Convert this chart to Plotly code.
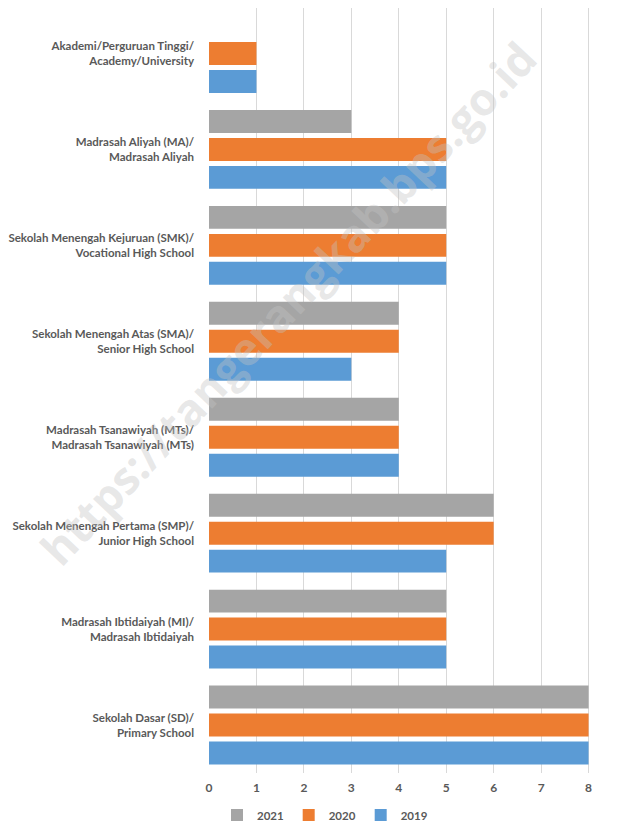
import plotly.graph_objects as go

categories = [
    "Sekolah Dasar (SD)/<br>Primary School",
    "Madrasah Ibtidaiyah (MI)/<br>Madrasah Ibtidaiyah",
    "Sekolah Menengah Pertama (SMP)/<br>Junior High School",
    "Madrasah Tsanawiyah (MTs)/<br>Madrasah Tsanawiyah (MTs)",
    "Sekolah Menengah Atas (SMA)/<br>Senior High School",
    "Sekolah Menengah Kejuruan (SMK)/<br>Vocational High School",
    "Madrasah Aliyah (MA)/<br>Madrasah Aliyah",
    "Akademi/Perguruan Tinggi/<br>Academy/University",
]
v2019 = [8, 5, 5, 4, 3, 5, 5, 1]
v2020 = [8, 5, 6, 4, 4, 5, 5, 1]
v2021 = [8, 5, 6, 4, 4, 5, 3, None]
x_ticks = [0, 1, 2, 3, 4, 5, 6, 7, 8, 9]

fig = go.Figure()
for name, vals, col in [("2019", v2019, "#5B9BD5"),
                        ("2020", v2020, "#ED7D31"),
                        ("2021", v2021, "#A5A5A5")]:
    fig.add_trace(go.Bar(y=categories, x=vals, name=name, orientation="h",
                         marker=dict(color=col, line=dict(width=0))))

fig.add_annotation(text="https://tangerangkab.bps.go.id", x=0.185, y=0.615, xref="paper", yref="paper",
                   xanchor="center", yanchor="middle",
                   showarrow=False, textangle=-46.7,
                   font=dict(family="Open Sans", size=45, color="rgba(195,195,195,0.4)", weight="bold"))

fig.update_layout(
    width=634, height=822,
    margin=dict(l=201, r=5.5, t=0, b=56.5),
    barmode="group", bargap=0.125, bargroupgap=0.18,
    plot_bgcolor="white", paper_bgcolor="white",
    showlegend=True,
    legend=dict(orientation="h", x=0.5, xref="container", xanchor="center", y=0.0182, yref="container",
                yanchor="middle", traceorder="reversed", itemwidth=30, bgcolor="rgba(0,0,0,0)",
                font=dict(family="Lato", size=11.5, color="#595959", weight="bold")),
    font=dict(family="Lato", color="#595959"),
)
fig.update_xaxes(range=[0, 9], tickvals=x_ticks, showgrid=True, gridcolor="#D9D9D9",
                 zeroline=False, showline=False, automargin=False, ticklabelstandoff=6,
                 tickfont=dict(family="Lato", size=12, color="#595959", weight="bold"))
fig.update_yaxes(showgrid=False, ticklabelstandoff=14, range=[-0.5, 7.474], automargin=False,
                 tickfont=dict(family="Lato", size=11.5, color="#595959", weight="bold"))

fig.write_html("out.html")
